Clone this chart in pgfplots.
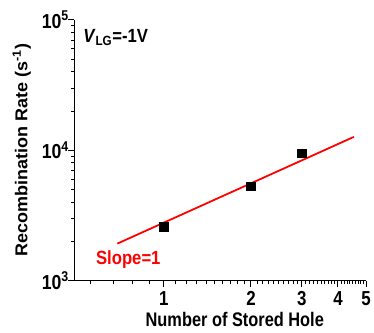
\documentclass[border=0pt]{standalone}
\usepackage{pgfplots}
\pgfplotsset{compat=1.18}
\usepackage{fontspec}
\setmainfont{Liberation Sans}
\begin{document}
\begin{tikzpicture}
\begin{loglogaxis}[
  width=294pt, height=263pt, scale only axis,
  xmin=0.49, xmax=5, ymin=1e3, ymax=1e5,
  axis x line*=bottom, axis y line*=left,
  axis line style={line width=1.2pt},
  tick align=outside,
  major tick length=6pt, minor tick length=3.5pt,
  tick style={line width=1pt, black},
  xtick={1,2,3,4,5},
  xticklabels={\scalebox{1}[1.2]{1},\scalebox{1}[1.2]{2},\scalebox{1}[1.2]{3},\scalebox{1}[1.2]{4},\scalebox{1}[1.2]{5}},
  minor xtick={0.556,0.667,0.778,0.889,1.1,1.2,1.3,1.4,1.5,1.6,1.7,1.8,1.9,2.1,2.2,2.3,2.4,2.5,2.6,2.7,2.8,2.9,3.1,3.2,3.3,3.4,3.5,3.6,3.7,3.8,3.9,4.1,4.2,4.3,4.4,4.5,4.6,4.7,4.8,4.9},
  ytick={1e3,1e4,1e5},
  yticklabels={\scalebox{1.05}[1.2]{10\textsuperscript{3}},\scalebox{1.05}[1.2]{10\textsuperscript{4}},\scalebox{1.05}[1.2]{10\textsuperscript{5}}},
  tick label style={font=\bfseries\fontsize{17}{19}\selectfont},
  yticklabel style={xshift=4pt},
  xticklabel style={yshift=-1pt},
  xlabel={\scalebox{1}[1.2]{Number of Stored Hole}},
  ylabel={\scalebox{1.1}[1.05]{Recombination Rate (s\textsuperscript{-1})}},
  label style={font=\bfseries\fontsize{16.5}{19}\selectfont},
  xlabel style={at={(rel axis cs:0.55,-0.15)}, anchor=center},
  ylabel style={at={(rel axis cs:-0.18,0.5)}, anchor=center},
  clip=false,
]
\addplot[red, line width=1.8pt] coordinates {(0.69,1925) (4.54,12670)};
\addplot[only marks, mark=square*, mark size=4.3pt, black] coordinates {(1,2584) (2,5310) (3,9490)};
\node[anchor=north west, font=\bfseries\fontsize{16}{18}\selectfont, inner sep=0pt] at (rel axis cs:0.03,0.965) {\scalebox{1.05}[1.2]{\textit{V}\textsubscript{LG}=-1V}};
\node[font=\bfseries\fontsize{16}{18}\selectfont, text=red, inner sep=0pt] at (rel axis cs:0.185,0.08) {\scalebox{1.05}[1.2]{Slope=1}};
\path (rel axis cs:-0.255,1.076) (rel axis cs:1.017,-0.2);
\end{loglogaxis}
\end{tikzpicture}
\end{document}
